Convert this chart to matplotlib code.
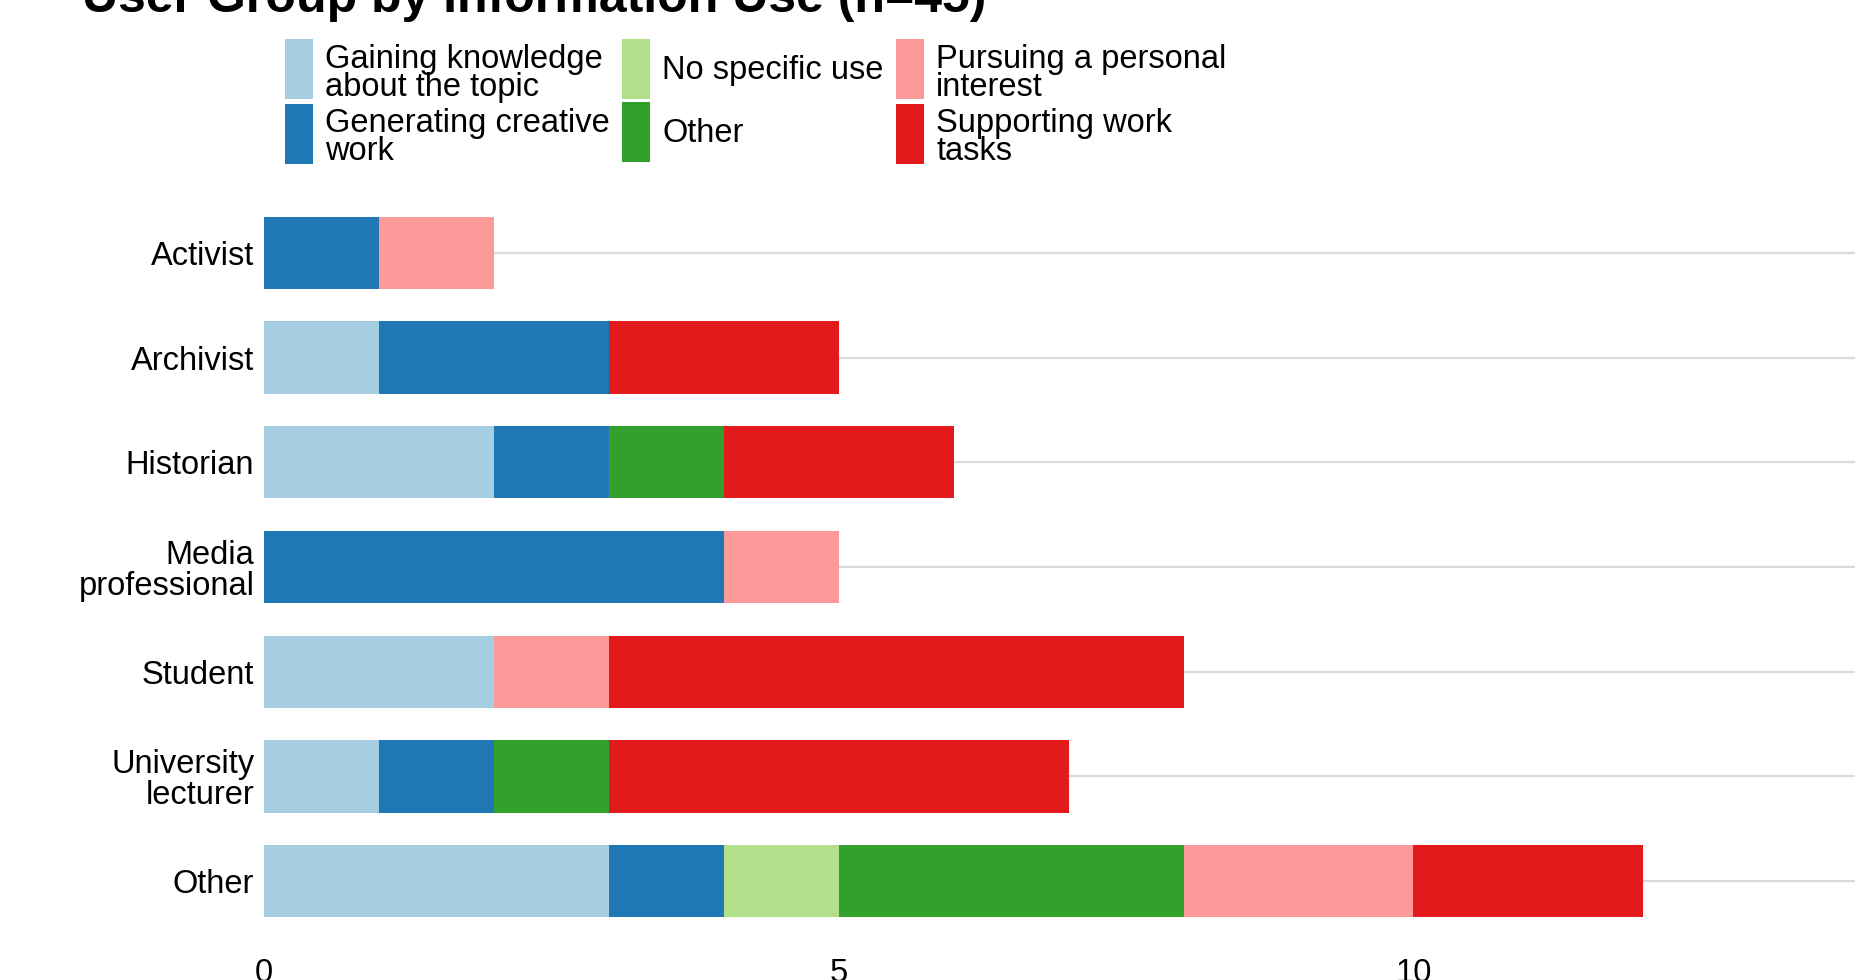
import matplotlib
matplotlib.use("Agg")
import matplotlib.pyplot as plt
from matplotlib.patches import Patch
import numpy as np

categories = ["Activist", "Archivist", "Historian", "Media\nprofessional",
              "Student", "University\nlecturer", "Other"]
series_names = ["Gaining knowledge\nabout the topic", "Generating creative\nwork",
                "No specific use", "Other", "Pursuing a personal\ninterest",
                "Supporting work\ntasks"]
gaining = [0, 1, 2, 0, 2, 1, 3]
generating = [1, 2, 1, 4, 0, 1, 1]
no_specific = [0, 0, 0, 0, 0, 0, 1]
other_use = [0, 0, 1, 0, 0, 1, 3]
pursuing = [1, 0, 0, 1, 1, 0, 2]
supporting = [0, 2, 2, 0, 5, 4, 2]
colors = ["#A6CEE3", "#1F78B4", "#B2DF8A", "#33A02C", "#FB9A99", "#E31A1C"]
x_ticks = [0, 5, 10]
title = "User Group by Information Use (n=45)"

plt.rcParams['font.family'] = ['Liberation Sans', 'DejaVu Sans']
FS = 23.5

W, H = 1856, 980
fig = plt.figure(figsize=(W / 100, H / 100), dpi=100)
ax = fig.add_axes([264 / W, (980 - 944) / H, 1 - 264 / W, (944 - 190) / H])

series = [gaining, generating, no_specific, other_use, pursuing, supporting]
y = np.arange(len(categories))
left = np.zeros(len(categories))
for vals, col, name in zip(series, colors, series_names):
    v = np.array(vals, dtype=float)
    ax.barh(y, v, left=left, height=0.69, color=col, linewidth=0, zorder=3)
    left += v

ax.set_ylim(len(categories) - 0.4, -0.6)
ax.set_xlim(0, 13.85)
ax.set_yticks(y)
ax.set_yticklabels(categories, fontsize=FS, linespacing=1.0)
ax.set_xticks(x_ticks)
ax.set_xticklabels([str(t) for t in x_ticks], fontsize=FS)
ax.tick_params(axis='both', length=0)
ax.tick_params(axis='y', pad=7)
ax.tick_params(axis='x', pad=10)
for s in ax.spines.values():
    s.set_visible(False)
ax.grid(axis='y', color='#DADADA', linewidth=1.6, zorder=0)
ax.grid(axis='x', visible=False)
ax.set_axisbelow(True)

fig.text(82 / W, 1 - 12 / H, title, fontsize=36, fontweight='bold',
         ha='left', va='baseline')

handles = [Patch(facecolor=c, edgecolor='none') for c in colors]
leg = fig.legend(handles, series_names, loc='upper left',
                 bbox_to_anchor=(285 / W, 1 - 38 / H), ncol=3, frameon=False,
                 fontsize=FS, handlelength=0.86, handleheight=2.455,
                 labelspacing=0.09, handletextpad=0.37, columnspacing=0.38,
                 borderpad=0, borderaxespad=0)
for t in leg.get_texts():
    t.set_linespacing(0.86)
    if "\n" in t.get_text():
        t.set_y(-6)

fig.savefig("out.png", dpi=100)
